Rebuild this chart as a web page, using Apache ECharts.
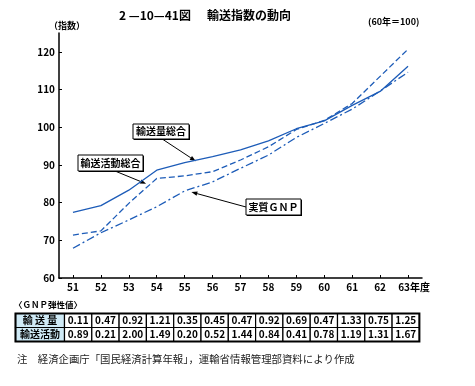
<!DOCTYPE html>
<html><head><meta charset="utf-8">
<script src="https://cdn.jsdelivr.net/npm/echarts@6/dist/echarts.min.js"></script>
<style>html,body{margin:0;padding:0;background:#fff;}#c{width:475px;height:386px;}</style>
</head><body><div id="c"></div>
<script>
// ---- data ----
const years = ['51','52','53','54','55','56','57','58','59','60','61','62','63'];
const yTicks = [60, 70, 80, 90, 100, 110, 120];
const transportVolume   = [77.4, 79.2, 83.3, 88.6, 90.6, 92.2, 94.0, 96.4, 99.6, 101.7, 105.8, 109.5, 116.2];
const transportActivity = [71.4, 72.5, 79.8, 86.4, 87.1, 88.2, 91.3, 94.8, 99.4, 101.8, 106.3, 113.5, 120.7];
const realGNP           = [67.9, 72.0, 75.4, 78.9, 83.1, 85.5, 89.1, 92.6, 97.3, 101.0, 104.8, 109.6, 114.6];
const tableRowLabels = ['輸 送 量', '輸送活動'];
const elasticityVolume   = [0.11, 0.47, 0.92, 1.21, 0.35, 0.45, 0.47, 0.92, 0.69, 0.47, 1.33, 0.75, 1.25];
const elasticityActivity = [0.89, 0.21, 2.00, 1.49, 0.20, 0.52, 1.44, 0.84, 0.41, 0.78, 1.19, 1.31, 1.67];
const seriesNames = ['輸送量総合', '輸送活動総合', '実質ＧＮＰ'];

const FONT = '"Noto Sans CJK JP", "Noto Sans", sans-serif';
const LINE_COLOR = '#1d5cb8';

const chart = echarts.init(document.getElementById('c'), null, {renderer: 'canvas'});
chart.setOption({
  animation: false,
  backgroundColor: '#fff',
  grid: {left: 59, right: 53, top: 33, bottom: 108, containLabel: false, outerBoundsMode: 'none'},
  xAxis: {
    type: 'category', data: years, boundaryGap: true,
    axisLine: {lineStyle: {color: '#000', width: 1.5}},
    axisTick: {show: true, inside: true, length: 3, alignWithLabel: true, lineStyle: {color: '#000', width: 1}},
    axisLabel: {
      color: '#000', fontSize: 10, fontFamily: FONT, fontWeight: 'bold', margin: 4, interval: 0,
      formatter: v => v === '63' ? '{a|63年度}' : v,
      rich: {a: {color: '#000', fontSize: 10, fontFamily: FONT, fontWeight: 'bold', padding: [0, 0, 0, 12]}}
    },
    splitLine: {show: false}
  },
  yAxis: {
    type: 'value', min: 60, max: 125, interval: 10,
    axisLine: {show: true, lineStyle: {color: '#000', width: 1.5}},
    axisTick: {show: true, inside: true, length: 3, customValues: yTicks, lineStyle: {color: '#000'}},
    axisLabel: {color: '#000', fontSize: 10, fontFamily: FONT, fontWeight: 'bold', margin: 4, customValues: yTicks},
    splitLine: {show: false}
  },
  series: [
    {name: seriesNames[0], type: 'line', data: transportVolume, symbol: 'none', lineStyle: {color: LINE_COLOR, width: 1.3, type: 'solid'}},
    {name: seriesNames[1], type: 'line', data: transportActivity, symbol: 'none', lineStyle: {color: LINE_COLOR, width: 1.3, type: [6, 3]}},
    {name: seriesNames[2], type: 'line', data: realGNP, symbol: 'none', lineStyle: {color: LINE_COLOR, width: 1.3, type: [8, 3, 2, 3]}}
  ]
});

// helpers to map data space to pixels
function px(idx) {
  const i0 = Math.floor(idx), i1 = Math.min(i0 + 1, years.length - 1);
  const x0 = chart.convertToPixel({xAxisIndex: 0}, years[i0]);
  const x1 = chart.convertToPixel({xAxisIndex: 0}, years[i1]);
  return x0 + (x1 - x0) * (idx - i0);
}
function py(v) { return chart.convertToPixel({yAxisIndex: 0}, v); }

const g = [];
const txt = (x, y, text, size, opts) => g.push(Object.assign({
  type: 'text', x, y,
  style: Object.assign({text, fontSize: size, fontFamily: FONT, fill: '#000', textAlign: 'left', textVerticalAlign: 'middle'}, opts || {})
}));

// titles
txt(119, 15, '2 —10—41図', 12, {fontWeight: 'bold'});
txt(207, 15, '輸送指数の動向', 12, {fontWeight: 'bold'});
txt(49, 26, '（指数）', 9, {fontWeight: 'bold'});
txt(368, 22, '(60年＝100)', 9, {fontWeight: 'bold'});

// annotation boxes with arrows (tips anchored in data space)
const annotations = [
  {label: seriesNames[0], box: [133, 124, 56, 15], from: [163, 139.5], tip: [4.4, 91.0]},
  {label: seriesNames[1], box: [78, 155, 65, 16], from: [115, 171], tip: [2.62, 85.0]},
  {label: seriesNames[2], box: [246, 199, 55, 16], from: [246, 207], tip: [4.24, 82.8]}
];
annotations.forEach(a => {
  const tx = px(a.tip[0]), ty = py(a.tip[1]);
  const [fx, fy] = a.from;
  const ang = Math.atan2(ty - fy, tx - fx);
  const L = 6, W = 2.2;
  const bx = tx - L * Math.cos(ang), by = ty - L * Math.sin(ang);
  g.push({type: 'line', shape: {x1: fx, y1: fy, x2: bx, y2: by}, style: {stroke: '#000', lineWidth: 1}});
  g.push({type: 'polygon', shape: {points: [[tx, ty],
    [bx + W * Math.sin(ang), by - W * Math.cos(ang)],
    [bx - W * Math.sin(ang), by + W * Math.cos(ang)]]}, style: {fill: '#000'}});
  const [x, y, w, h] = a.box;
  g.push({type: 'rect', shape: {x: x + 1, y: y + 1, width: w, height: h}, style: {fill: '#000'}});
  g.push({type: 'rect', shape: {x, y, width: w, height: h}, style: {fill: '#fff', stroke: '#000', lineWidth: 1}});
  g.push({type: 'text', x: x + w / 2, y: y + h / 2, style: {text: a.label, fontSize: 10, fontFamily: FONT, fontWeight: 'bold', fill: '#000', textAlign: 'center', textVerticalAlign: 'middle'}});
});

// elasticity table
txt(14, 305, '〈ＧＮＰ弾性値〉', 8.5, {fontWeight: 'bold'});
const tblX = 15.5, tblY = 313.5, hdrW = 49, colW = 27.3, rowH = 14;
[elasticityVolume, elasticityActivity].forEach((row, r) => {
  const yy = tblY + r * rowH;
  g.push({type: 'rect', shape: {x: tblX, y: yy, width: hdrW, height: rowH}, style: {fill: '#cfeaf6', stroke: '#000', lineWidth: 1.2}});
  g.push({type: 'text', x: tblX + hdrW / 2, y: yy + rowH / 2, style: {text: tableRowLabels[r], fontSize: 10, fontFamily: FONT, fontWeight: 'bold', fill: '#000', textAlign: 'center', textVerticalAlign: 'middle'}});
  row.forEach((v, c) => {
    const xx = tblX + hdrW + c * colW;
    g.push({type: 'rect', shape: {x: xx, y: yy, width: colW, height: rowH}, style: {fill: '#fff', stroke: '#000', lineWidth: 1.2}});
    g.push({type: 'text', x: xx + colW / 2, y: yy + rowH / 2, style: {text: v.toFixed(2), fontSize: 10, fontFamily: FONT, fontWeight: 'bold', fill: '#000', textAlign: 'center', textVerticalAlign: 'middle'}});
  });
});
g.push({type: 'rect', shape: {x: tblX, y: tblY, width: hdrW + colW * years.length, height: rowH * 2}, style: {fill: 'none', stroke: '#000', lineWidth: 2}});

// footnote
txt(17, 359, '注　経済企画庁「国民経済計算年報」，運輸省情報管理部資料により作成', 10.4, {fill: '#222'});

chart.setOption({graphic: g});
</script>
</body></html>
